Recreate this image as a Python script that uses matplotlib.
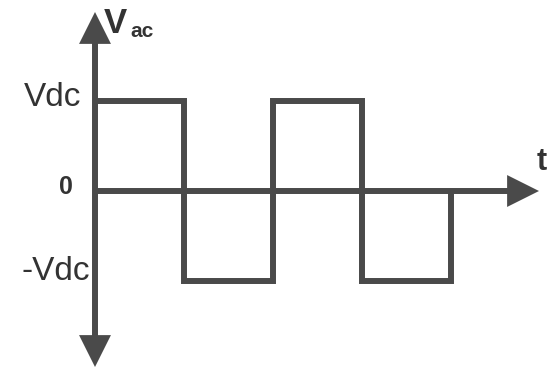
import matplotlib
matplotlib.use("Agg")
import matplotlib.pyplot as plt
from matplotlib.patches import FancyArrowPatch

plt.rcParams['font.family'] = ['Liberation Sans', 'DejaVu Sans']

# Square wave data (time in half-periods, value in units of Vdc)
t_edges = [0, 1, 1, 2, 2, 3, 3, 4, 4]
v_levels = [1, 1, -1, -1, 1, 1, -1, -1, 0]
y_ticks = [1, 0, -1]
y_labels = ['Vdc', '0', '-Vdc']

W, H = 551, 371
fig = plt.figure(figsize=(W / 100, H / 100), dpi=100)
ax = fig.add_axes([0, 0, 1, 1])
px_x, px_y = 89.0, 90.0
x0, y0 = 95.0, 191.0
ax.set_xlim(-x0 / px_x, (W - x0) / px_x)
ax.set_ylim(-(H - y0) / px_y, y0 / px_y)
ax.axis('off')

col = '#4a4a4a'
lw = 4.3

ax.plot(t_edges, v_levels, color=col, lw=lw, solid_joinstyle='miter',
        solid_capstyle='butt', zorder=3)

def arrow(p, q):
    a = FancyArrowPatch(p, q, arrowstyle='-|>,head_length=16,head_width=8',
                        mutation_scale=1, shrinkA=0, shrinkB=0, color=col,
                        lw=lw, joinstyle='miter', capstyle='butt', zorder=4)
    ax.add_patch(a)

# vertical axis (double arrow)
arrow((0, 0), (0, (y0 - 12) / px_y))
arrow((0, 0), (0, -(367 - y0) / px_y))
# horizontal axis
arrow((0, 0), ((539 - x0) / px_x, 0))

tcol = '#333333'
ax.text(-0.15, 1.04, y_labels[0], ha='right', va='center', fontsize=24, color=tcol)
ax.text(-0.25, 0.04, y_labels[1], ha='right', va='center', fontsize=18,
        fontweight='bold', color=tcol)
ax.text(-0.06, -0.9, y_labels[2], ha='right', va='center', fontsize=24, color=tcol)

ax.text(0.1, (y0 - 24) / px_y, 'V', ha='left', va='center', fontsize=25,
        fontweight='bold', color=tcol)
ax.text(0.4, (y0 - 32) / px_y, 'ac', ha='left', va='center', fontsize=15,
        fontweight='bold', color=tcol)
ax.text((542 - x0) / px_x, (y0 - 162) / px_y, 't', ha='center', va='center',
        fontsize=22, fontweight='bold', color=tcol)

fig.savefig('out.png', dpi=100, facecolor='white')
